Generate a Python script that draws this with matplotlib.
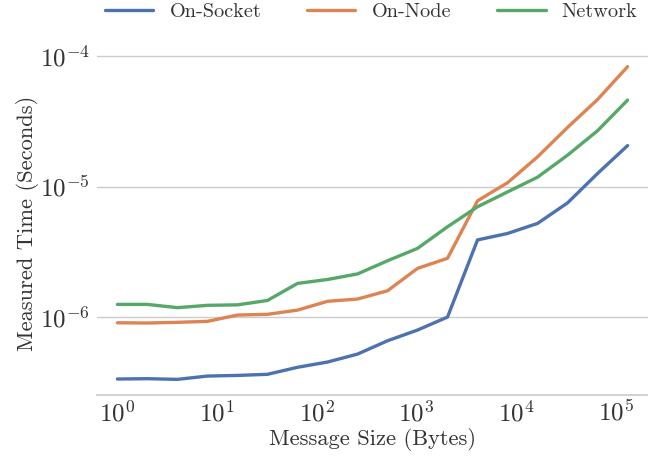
import numpy as np
import matplotlib
matplotlib.use("Agg")
import matplotlib.pyplot as plt
import seaborn as sns

# Message sizes 2^0 .. 2^17 bytes
sizes = [2 ** i for i in range(18)]

on_socket = [3.35e-7, 3.37e-7, 3.33e-7, 3.53e-7, 3.57e-7, 3.64e-7, 4.12e-7, 4.52e-7, 5.20e-7,
             6.58e-7, 7.95e-7, 1.00e-6, 3.90e-6, 4.37e-6, 5.22e-6, 7.50e-6, 1.26e-5, 2.06e-5]
on_node = [9.04e-7, 9.00e-7, 9.11e-7, 9.27e-7, 1.036e-6, 1.049e-6, 1.13e-6, 1.32e-6, 1.374e-6,
           1.59e-6, 2.36e-6, 2.82e-6, 7.78e-6, 1.07e-5, 1.69e-5, 2.84e-5, 4.65e-5, 8.30e-5]
network = [1.25e-6, 1.25e-6, 1.18e-6, 1.23e-6, 1.24e-6, 1.34e-6, 1.81e-6, 1.94e-6, 2.14e-6,
           2.70e-6, 3.36e-6, 4.92e-6, 7.00e-6, 9.10e-6, 1.18e-5, 1.74e-5, 2.68e-5, 4.60e-5]

labels = ["On-Socket", "On-Node", "Network"]

sns.set_theme(style="whitegrid")
plt.rcParams["font.family"] = "serif"
plt.rcParams["font.serif"] = ["cmr10"]
plt.rcParams["mathtext.fontset"] = "cm"
plt.rcParams["axes.formatter.use_mathtext"] = True
plt.rcParams["axes.unicode_minus"] = False

colors = sns.color_palette("deep")

fig = plt.figure(figsize=(6.48, 4.63), dpi=100)
ax = fig.add_axes([97 / 648, 1 - 395 / 463, (648 - 97) / 648, (395 - 51) / 463])

for series, label, c in zip([on_socket, on_node, network], labels, colors):
    ax.plot(sizes, series, label=label, color=c, linewidth=2.4)

ax.set_xscale("log")
ax.set_yscale("log")
ax.margins(x=0.04, y=0.05)
ax.grid(False, axis="x")
ax.grid(True, axis="y", which="major", color="#cccccc", linewidth=1)
for side in ["top", "right", "left"]:
    ax.spines[side].set_visible(False)
ax.spines["bottom"].set_color("#cccccc")
ax.tick_params(axis="both", which="both", length=0, labelsize=18, colors="#333333")
ax.tick_params(axis="x", pad=4)
ax.tick_params(axis="y", pad=5)

ax.set_xlabel("Message Size (Bytes)", fontsize=16.2, color="#333333", labelpad=1)
ax.set_ylabel("Measured Time (Seconds)", fontsize=16.2, color="#333333", labelpad=1)

handles, _ = ax.get_legend_handles_labels()
leg = fig.legend(handles, labels, loc="center", bbox_to_anchor=(371 / 648, 1 - 12 / 463),
                 ncol=3, frameon=False, fontsize=14.6, handlelength=2.4,
                 handletextpad=0.8, columnspacing=2.25, borderpad=0, borderaxespad=0)
for t in leg.get_texts():
    t.set_color("#333333")

fig.savefig("out.png", dpi=100)
